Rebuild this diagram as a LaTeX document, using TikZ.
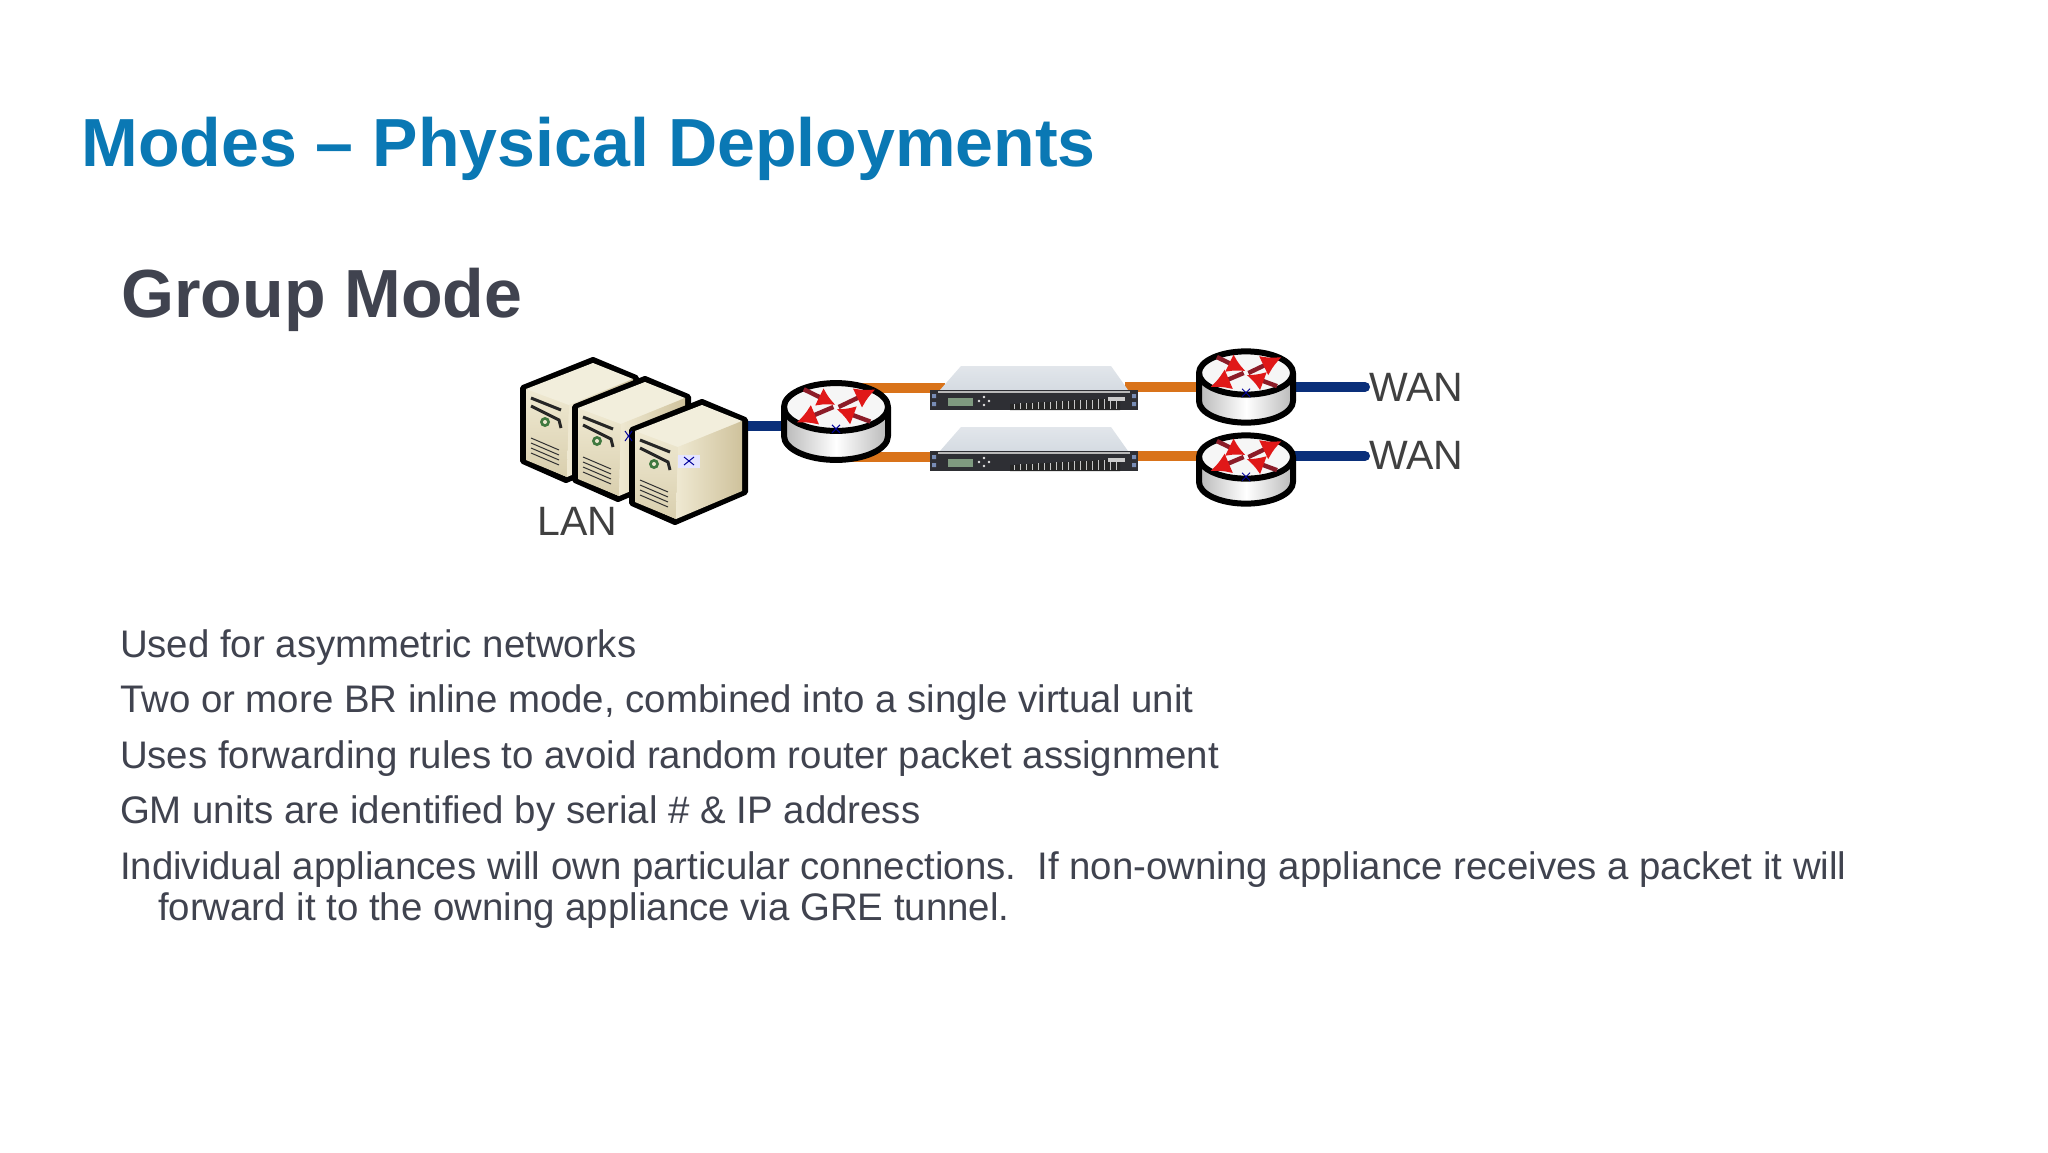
\documentclass[tikz,border=0pt]{standalone}
\usepackage{fontspec}
\setmainfont{Liberation Sans}
\usetikzlibrary{arrows.meta}
\definecolor{titleblue}{HTML}{0A78B4}
\definecolor{txtgray}{HTML}{40434F}
\definecolor{wireorange}{HTML}{D9731A}
\definecolor{wirenavy}{HTML}{0A2F7A}
\definecolor{srvtop}{HTML}{F2EEDC}
\definecolor{srvfront}{HTML}{EFE9D2}
\definecolor{srvlow}{HTML}{D9CFAE}
\definecolor{srvside}{HTML}{CFC29C}
\definecolor{rtred}{HTML}{E01818}
\definecolor{rtdark}{HTML}{8C1C28}
\definecolor{racktop}{HTML}{D5DBE2}
\definecolor{rackface}{HTML}{2E2F34}
\definecolor{lcd}{HTML}{7F9A80}
\tikzset{
  x=0.5pt,y=-0.5pt,
  body/.style={anchor=base west,inner sep=0pt,outer sep=0pt,text=txtgray,font=\fontsize{19.2}{23}\selectfont},
  title/.style={anchor=base west,inner sep=0pt,text=titleblue,font=\fontsize{34.05}{40}\selectfont\bfseries},
  subtitle/.style={anchor=base west,inner sep=0pt,text=txtgray,font=\fontsize{34.05}{40}\selectfont\bfseries},
  devlabel/.style={anchor=base west,inner sep=0pt,text=black!75,font=\fontsize{20.5}{24}\selectfont},
  orangewire/.style={draw=wireorange,line width=5pt},
  navywire/.style={draw=wirenavy,line width=5pt},
  outline/.style={draw=black,line width=3pt,line join=round},
  pics/tower/.style={code={
    \path[fill=srvfront,outline] (0,28) -- (70,0) -- (113,18) -- (113,90) -- (43,120) -- (0,101) -- cycle;
    \path[top color=srvfront,bottom color=srvlow] (3,29) -- (46,45) -- (44,117) -- (3,100) -- cycle;
    \path[fill=srvtop] (3,29) -- (70,3) -- (110,19) -- (46,45) -- cycle;
    \path[left color=srvfront,right color=srvside] (46,45) -- (110,19) -- (110,89) -- (44,117) -- cycle;
    \draw[line width=1.5pt,black!85] (8,38) -- (38,50) (8,46) -- (36,60) -- (38,68);
    \draw[line width=.5pt,black!80] (8,78) -- (36,90) (8,83) -- (36,95) (8,88) -- (36,100) (8,93) -- (36,105);
    \fill[black!55!green!50!gray] (22,62) circle (5);
    \fill[srvfront] (22,62) circle (2);
  }},
}
\newcommand{\routerbody}[4]{% cx, cy top, rx, height
  \begin{scope}[shift={(#1,#2)}]
    \path[left color=gray!55,right color=gray!55,middle color=white] (-#3,0) -- (-#3,#4) arc[start angle=180,end angle=0,x radius=#3,y radius=0.46*#3] -- (#3,0) -- cycle;
    \fill[white!93!gray] (0,0) ellipse[x radius=#3,y radius=0.46*#3];
    \draw[outline] (-#3,0) -- (-#3,#4) arc[start angle=180,end angle=0,x radius=#3,y radius=0.46*#3] -- (#3,0);
    \draw[outline] (0,0) ellipse[x radius=#3,y radius=0.46*#3];
    \draw[-{Latex[length=10pt,width=11pt,color=rtred,fill=rtred]},rtdark,line width=2.2pt] (0.05*#3,0) -- (0.76*#3,-0.34*#3);
    \draw[-{Latex[length=10pt,width=11pt,color=rtred,fill=rtred]},rtdark,line width=2.2pt] (-0.05*#3,0) -- (-0.76*#3,0.3*#3);
    \draw[-{Latex[length=9pt,width=10pt,color=rtred,fill=rtred]},rtdark,line width=2.2pt] (-0.62*#3,-0.34*#3) -- (-0.01*#3,-0.04*#3);
    \draw[-{Latex[length=9pt,width=10pt,color=rtred,fill=rtred]},rtdark,line width=2.2pt] (0.66*#3,0.28*#3) -- (0.01*#3,0.04*#3);
    \draw[blue!60!black,line width=.5pt] (-4,0.42*#3-4) -- (4,0.42*#3+4) (-4,0.42*#3+4) -- (4,0.42*#3-4);
  \end{scope}
}
\newcommand{\rackunit}[2]{% x, y of panel top-left
  \begin{scope}[shift={(#1,#2)}]
    \path[top color=racktop!70!white,bottom color=racktop] (10,0) -- (31,-24) -- (181,-24) -- (198,0) -- cycle;
    \fill[rackface] (0,0) rectangle (208,20);
    \fill[gray!55] (8,1) rectangle (200,2.5);
    \fill[black!85] (80,20) -- (190,20) -- (190,8) -- (80,14) -- cycle;
    \foreach \vx in {84,90,...,186}{\draw[gray!45,line width=.3pt] (\vx,19) -- (\vx,{14-(\vx-80)*0.055});}
    \fill[lcd] (18,8) rectangle (43,16);
    \fill[white!80!gray] (49,11) circle (1.3) (59,11) circle (1.3) (54,7) circle (1.3) (54,15) circle (1.3);
    \fill[white!60!gray] (178,7) rectangle (195,11);
    \fill[wirenavy!55] (2,4) rectangle (6,8) (2,12) rectangle (6,16) (202,4) rectangle (206,8) (202,12) rectangle (206,16);
  \end{scope}
}
\begin{document}
\begin{tikzpicture}
\useasboundingbox[fill=white] (0,0) rectangle (2048,1152);
% anchors
\coordinate (rA) at (836,407);
\coordinate (rB) at (1246,372);
\coordinate (rC) at (1246,456);
\coordinate (dAleft) at (945,388);
\coordinate (dAright) at (1125,387);
\coordinate (dBleft) at (935,457);
\coordinate (dBright) at (1130,456);
\coordinate (towerE) at (740,426);
\coordinate (wanA) at (1365,387);
\coordinate (wanB) at (1365,456);
% wires
\draw[orangewire] (rA |- dAleft) -- (dAleft);
\draw[orangewire] (rA |- dBleft) -- (dBleft);
\draw[orangewire] (dAright) -- (dAright -| rB);
\draw[orangewire] (dBright) -- (dBright -| rC);
\draw[navywire] (towerE) -- (towerE -| rA);
\draw[navywire,line cap=round] (rB |- wanA) -- (wanA);
\draw[navywire,line cap=round] (rC |- wanB) -- (wanB);
% towers
\pic at (523,360) {tower};
\pic at (575,379) {tower};
\pic at (632,402) {tower};
\fill[blue!10] (678,455) rectangle (700,468);
\draw[blue!60!black,line width=.5pt] (684,457) -- (694,465) (684,465) -- (694,457);
\draw[blue!60!black,line width=.5pt] (625,431) -- (632,441) (625,441) -- (632,431);
% routers and appliances
\routerbody{836}{407}{52}{29}
\rackunit{930}{390}
\rackunit{930}{451}
\routerbody{1246}{373}{47}{28}
\routerbody{1246}{457}{47}{25}
% texts
\node[title] (ttl) at (81,166) {Modes – Physical Deployments};
\node[subtitle] (sub) at (121,317) {Group Mode};
\node[devlabel] (lan) at (537,535) {LAN};
\node[devlabel] (wan1) at (1369,401) {WAN};
\node[devlabel] (wan2) at (1369,469) {WAN};
\node[body] (b1) at (120,657) {Used for asymmetric networks};
\node[body] (b2) at (120,712.5) {Two or more BR inline mode, combined into a single virtual unit};
\node[body] (b3) at (120,768) {Uses forwarding rules to avoid random router packet assignment};
\node[body] (b4) at (120,823.5) {GM units are identified by serial \# \& IP address};
\node[body] (b5) at (120,879) {Individual appliances will own particular connections.\ \ If non-owning appliance receives a packet it will};
\node[body] (b6) at (158,920) {forward it to the owning appliance via GRE tunnel.};
\end{tikzpicture}
\end{document}
